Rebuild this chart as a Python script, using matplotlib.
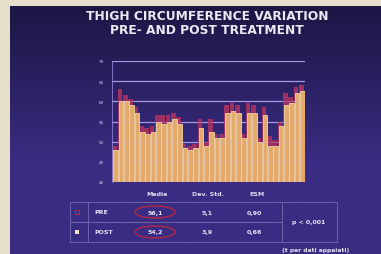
#importing the libraries
import numpy as np
import matplotlib
matplotlib.use('Agg')
import matplotlib.pyplot as plt
from matplotlib.patches import Ellipse, Rectangle
from matplotlib.lines import Line2D

# thigh circumference of each patient (cm)
pre_values = [49, 63, 61.5, 60.5, 58.5, 54, 53.5, 54, 56.5, 56.5, 56.5, 57,
              56, 49.5, 49, 49.5, 55.5, 50, 55.5, 52, 52, 59, 59.5, 59, 52,
              59.5, 59, 51, 58.5, 51.5, 50.5, 55, 62, 61, 63.5, 64]
post_values = [48, 60, 60, 59, 57, 52.5, 52, 52.5, 55, 54.5, 55, 55.5, 54.5,
               48.5, 48, 48.5, 53.5, 49, 52.5, 51, 51, 57, 57.5, 57, 51, 57,
               57, 50, 56.5, 49, 49, 54, 59, 59.5, 62, 62.5]
y_ticks = [40, 45, 50, 55, 60, 65, 70]

# table of the statistics under the chart
row_names = ['PRE', 'POST']
col_names = ['Media', 'Dev. Std.', 'ESM']
means = ['56,1', '54,2']
std_devs = ['5,1', '3,9']
sems = ['0,90', '0,66']
p_text = 'p < 0,001'

W, H = 381, 255
fig = plt.figure(figsize=(W / 100, H / 100), dpi=100)


def fx(x):
    return x / W


def fy(y):
    return 1 - y / H


# background: beige border and the blue-purple slide
bg = fig.add_axes([0, 0, 1, 1])
bg.add_patch(Rectangle((0, 0), W, H, color='#e6dfca', zorder=0))
top = np.array([28, 22, 68]) / 255
bottom = np.array([58, 44, 130]) / 255
t = np.linspace(0, 1, 200)[:, None, None]
grad = top + (bottom - top) * np.clip(t * 1.6, 0, 1)
grad = np.repeat(grad, 2, axis=1)
bg.imshow(grad, extent=[10, W, H, 7], aspect='auto', zorder=1)
# imshow changes the limits, so put them back
bg.set_xlim(0, W)
bg.set_ylim(H, 0)
bg.axis('off')

# title
fig.text(fx(207), fy(16), 'THIGH CIRCUMFERENCE VARIATION', color='#ece8f6',
         fontsize=8.8, fontweight='bold', ha='center', va='center')
fig.text(fx(207), fy(31), 'PRE- AND POST TREATMENT', color='#ece8f6',
         fontsize=8.8, fontweight='bold', ha='center', va='center')

# bar chart
ax = fig.add_axes([fx(112), fy(183), fx(305) - fx(112), fy(62) - fy(183)])
ax.patch.set_alpha(0)
x = np.arange(len(pre_values))
for v in y_ticks[1:]:
    ax.axhline(v, color='#9a90e0', lw=0.9, zorder=0)
ax.bar(x - 0.1, np.array(pre_values) - 40, bottom=40, width=0.9,
       color='#9c3062', zorder=2)
ax.bar(x + 0.1, np.array(post_values) - 40, bottom=40, width=0.85,
       color='#e2aa6c', edgecolor='#f2d4a4', linewidth=0.6, zorder=3)
for v in y_ticks[1:]:
    ax.axhline(v, color='#c8b8f0', lw=0.6, alpha=0.3, zorder=4)
ax.set_xlim(-0.6, len(pre_values) - 0.4)
ax.set_ylim(40, 70)
ax.set_yticks(y_ticks)
ax.set_xticks([])
ax.tick_params(axis='y', colors='#d8d2f0', labelsize=3, length=0, pad=6)
for s in ['top', 'right', 'bottom']:
    ax.spines[s].set_visible(False)
ax.spines['left'].set_color('#8a80d0')
ax.spines['left'].set_linewidth(0.6)
ax.axhline(40, color='#b8aee8', lw=0.8, zorder=5)

# table headers
for name, xp in zip(col_names, [157, 208, 257]):
    fig.text(fx(xp), fy(195), name, color='#e0dcf2', fontsize=4.5,
             fontweight='bold', ha='center', va='center')

# table frame
line_col = '#6c62a8'
for (x0, y0, x1, y1) in [(70, 203, 337, 203), (70, 243, 337, 243),
                         (70, 203, 70, 243), (337, 203, 337, 243),
                         (70, 223, 282, 223), (88, 203, 88, 243),
                         (282, 203, 282, 243)]:
    fig.add_artist(Line2D([fx(x0), fx(x1)], [fy(y0), fy(y1)],
                          color=line_col, lw=0.7))

# table rows
row_y = [213, 233]
fig.add_artist(Rectangle((fx(75), fy(215)), fx(4), 4 / H,
                         facecolor='none', edgecolor='#a03050', lw=0.8))
fig.add_artist(Rectangle((fx(75), fy(235)), fx(4), 4 / H,
                         facecolor='#f0e8b8', edgecolor='none'))
for i in range(2):
    yp = fy(row_y[i])
    fig.text(fx(94), yp, row_names[i], color='#e6e2f4', fontsize=4.5,
             fontweight='bold', ha='left', va='center')
    fig.text(fx(155), yp, means[i], color='#e6e2f4', fontsize=4.5,
             fontweight='bold', ha='center', va='center')
    fig.add_artist(Ellipse((fx(155), yp), fx(40), 12 / H, facecolor='none',
                           edgecolor='#b02848', lw=1.0))
    fig.text(fx(207), yp, std_devs[i], color='#e6e2f4', fontsize=4.5,
             fontweight='bold', ha='center', va='center')
    fig.text(fx(254), yp, sems[i], color='#e6e2f4', fontsize=4.5,
             fontweight='bold', ha='center', va='center')
fig.text(fx(309), fy(223), p_text, color='#e6e2f4', fontsize=4.5,
         fontweight='bold', ha='center', va='center')
fig.text(fx(316), fy(251), '(t per dati appaiati)', color='#e6e2f4',
         fontsize=4.3, fontweight='bold', ha='center', va='center')

# saving the figure
fig.savefig('out.png', dpi=100)
